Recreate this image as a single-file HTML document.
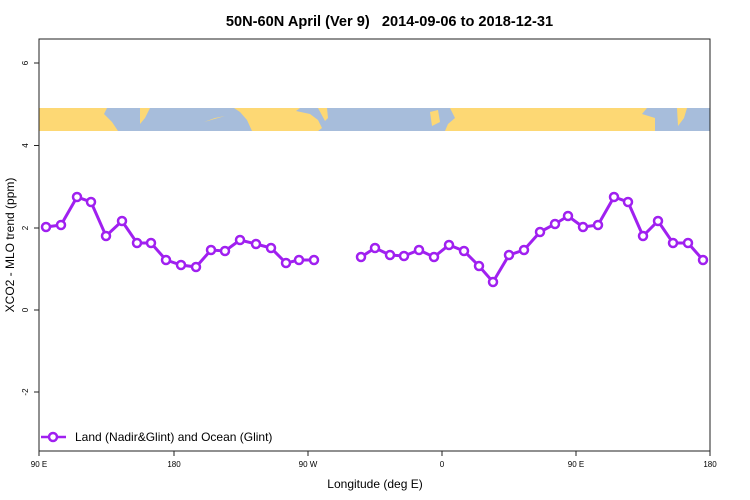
<!DOCTYPE html>
<html><head><style>body{margin:0;background:#fff}svg{display:block}</style></head><body>
<svg width="750" height="500" xmlns="http://www.w3.org/2000/svg" font-family="Liberation Sans, sans-serif">
<text x="389.5" y="26" text-anchor="middle" font-size="14.6" font-weight="bold" style="white-space:pre" xml:space="preserve">50N-60N April (Ver 9)   2014-09-06 to 2018-12-31</text>
<rect x="39" y="108" width="671" height="23" fill="#a7bddb"/>
<g fill="#fdd874">
<polygon points="39,108 107,108 104,114 112,122 118,131 39,131"/>
<polygon points="140,108 150,108 145,118 140,124"/>
<polygon points="204,122 215,118 225,116"/>
<polygon points="234,108 300,108 296,111 310,114 318,120 322,128 318,131 252,131 247,120 240,112"/>
<polygon points="318,108 327,108 328,118 325,121"/>
<polygon points="450,108 647,108 642,114 655,118 655,131 445,131 448,124 455,118"/>
<polygon points="430,112 438,110 440,122 432,126"/>
<polygon points="677,108 687,108 684,118 678,126"/>
</g>
<rect x="39" y="39" width="671" height="412" fill="none" stroke="#222" stroke-width="1"/>
<g stroke="#222" stroke-width="1">
<line x1="39" y1="63" x2="34" y2="63"/><line x1="39" y1="145.5" x2="34" y2="145.5"/><line x1="39" y1="228" x2="34" y2="228"/><line x1="39" y1="310" x2="34" y2="310"/><line x1="39" y1="392" x2="34" y2="392"/>
<line x1="39" y1="451" x2="39" y2="456"/><line x1="174" y1="451" x2="174" y2="456"/><line x1="308" y1="451" x2="308" y2="456"/><line x1="442" y1="451" x2="442" y2="456"/><line x1="576" y1="451" x2="576" y2="456"/><line x1="710" y1="451" x2="710" y2="456"/>
</g>
<g font-size="8" text-anchor="middle">
<text transform="translate(28,63) rotate(-90)">6</text>
<text transform="translate(28,145.5) rotate(-90)">4</text>
<text transform="translate(28,228) rotate(-90)">2</text>
<text transform="translate(28,310) rotate(-90)">0</text>
<text transform="translate(28,392) rotate(-90)">-2</text>
<text x="39" y="467">90 E</text><text x="174" y="467">180</text><text x="308" y="467">90 W</text><text x="442" y="467">0</text><text x="576" y="467">90 E</text><text x="710" y="467">180</text>
</g>
<text x="375" y="488" text-anchor="middle" font-size="12">Longitude (deg E)</text>
<text transform="translate(14,245) rotate(-90)" text-anchor="middle" font-size="12">XCO2 - MLO trend (ppm)</text>
<g fill="#fff" stroke="#a020f0" stroke-width="3">
<polyline fill="none" points="46,227 61,225 77,197 91,202 106,236 122,221 137,243 151,243 166,260 181,265 196,267 211,250 225,251 240,240 256,244 271,248 286,263 299,260 314,260"/>
<polyline fill="none" points="361,257 375,248 390,255 404,256 419,250 434,257 449,245 464,251 479,266 493,282 509,255 524,250 540,232 555,224 568,216 583,227 598,225 614,197 628,202 643,236 658,221 673,243 688,243 703,260"/>
<g stroke-width="2.5">
<circle cx="46" cy="227" r="4"/><circle cx="61" cy="225" r="4"/><circle cx="77" cy="197" r="4"/><circle cx="91" cy="202" r="4"/><circle cx="106" cy="236" r="4"/><circle cx="122" cy="221" r="4"/><circle cx="137" cy="243" r="4"/><circle cx="151" cy="243" r="4"/><circle cx="166" cy="260" r="4"/><circle cx="181" cy="265" r="4"/><circle cx="196" cy="267" r="4"/><circle cx="211" cy="250" r="4"/><circle cx="225" cy="251" r="4"/><circle cx="240" cy="240" r="4"/><circle cx="256" cy="244" r="4"/><circle cx="271" cy="248" r="4"/><circle cx="286" cy="263" r="4"/><circle cx="299" cy="260" r="4"/><circle cx="314" cy="260" r="4"/>
<circle cx="361" cy="257" r="4"/><circle cx="375" cy="248" r="4"/><circle cx="390" cy="255" r="4"/><circle cx="404" cy="256" r="4"/><circle cx="419" cy="250" r="4"/><circle cx="434" cy="257" r="4"/><circle cx="449" cy="245" r="4"/><circle cx="464" cy="251" r="4"/><circle cx="479" cy="266" r="4"/><circle cx="493" cy="282" r="4"/><circle cx="509" cy="255" r="4"/><circle cx="524" cy="250" r="4"/><circle cx="540" cy="232" r="4"/><circle cx="555" cy="224" r="4"/><circle cx="568" cy="216" r="4"/><circle cx="583" cy="227" r="4"/><circle cx="598" cy="225" r="4"/><circle cx="614" cy="197" r="4"/><circle cx="628" cy="202" r="4"/><circle cx="643" cy="236" r="4"/><circle cx="658" cy="221" r="4"/><circle cx="673" cy="243" r="4"/><circle cx="688" cy="243" r="4"/><circle cx="703" cy="260" r="4"/>
<line x1="41" y1="437" x2="66" y2="437"/><circle cx="53" cy="437" r="4"/>
</g>
</g>
<text x="75" y="441" font-size="12">Land (Nadir&amp;Glint) and Ocean (Glint)</text>
</svg>
</body></html>
